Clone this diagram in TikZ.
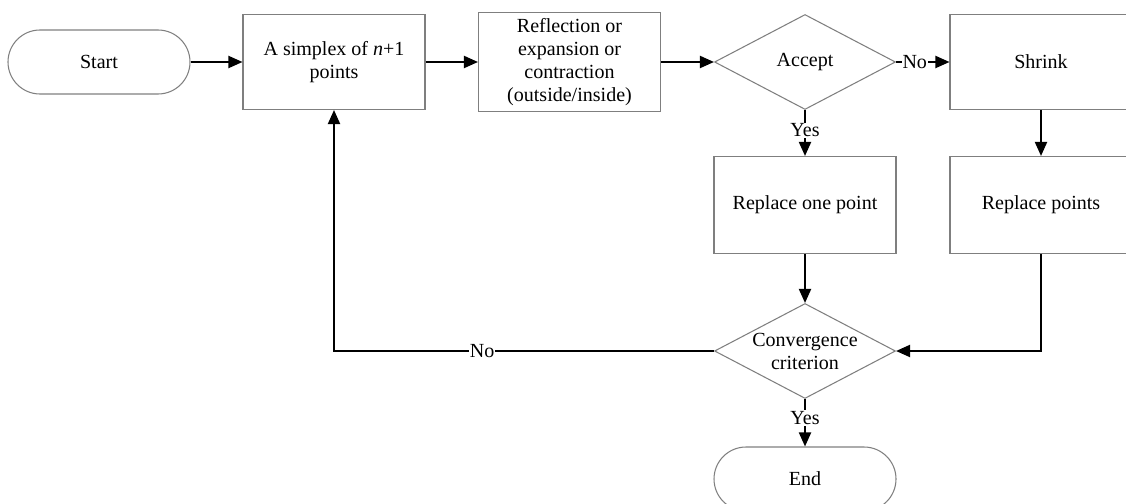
\documentclass[tikz,border=0pt]{standalone}
\usepackage{fontspec}
\setmainfont{Liberation Serif}
\usepackage{xcolor}
\usepackage{tikz}
\usetikzlibrary{arrows.meta,shapes.geometric}
\definecolor{boxline}{HTML}{7F7F7F}
\begin{document}
\begin{tikzpicture}[>={Triangle[length=2.8mm,width=2.4mm]},
  font=\fontsize{11.4}{13.1}\selectfont,
  box/.style={draw=boxline,line width=0.6pt,minimum width=3.64cm,minimum height=1.92cm,align=center},
  term/.style={draw=boxline,line width=0.6pt,rounded corners=0.64cm,minimum width=3.64cm,minimum height=1.28cm},
  choice/.style={diamond,draw=boxline,line width=0.6pt,inner sep=0pt,shape aspect=1.9,minimum width=3.62cm,minimum height=1.9cm,align=center},
  flow/.style={->,line width=1.1pt},
  tag/.style={fill=white,inner sep=0.5pt}]
  \useasboundingbox (0,0) rectangle (22.52,-10.08);
  \node[term] (start) at (1.98,-1.24) {Start};
  \node[box,minimum height=1.9cm] (simplex) at (6.68,-1.24) {A simplex of \textit{n}+1\\points};
  \node[box,minimum height=1.9cm] (reflect) at (11.39,-1.24) {Reflection or\\expansion or\\contraction\\(outside/inside)};
  \node[choice] (accept) at (16.1,-1.24) {Accept};
  \node[box,minimum height=1.9cm] (shrink) at (20.82,-1.24) {Shrink};
  \node[box,minimum height=1.94cm] (replone) at (16.1,-4.1) {Replace one point};
  \node[box,minimum height=1.94cm] (replall) at (20.82,-4.1) {Replace points};
  \node[choice] (conv) at (16.1,-7.02) {Convergence\\criterion};
  \node[term] (finish) at (16.1,-9.58) {End};
  \draw[flow] (start) -- (simplex);
  \draw[flow] (simplex) -- (reflect);
  \draw[flow] (reflect) -- (accept);
  \draw[flow] (accept.east) -- node[tag,pos=0.35] {No} (shrink);
  \draw[flow] (accept.south) -- node[tag,pos=0.44] {Yes} (replone);
  \draw[flow] (shrink) -- (replall);
  \draw[flow] (replone) -- (conv);
  \draw[flow] (replall.south) |- (conv.east);
  \draw[flow] (conv.west) -| node[tag,pos=0.305] {No} (simplex.south);
  \draw[flow] (conv.south) -- node[tag,pos=0.4] {Yes} (finish);
\end{tikzpicture}
\end{document}
